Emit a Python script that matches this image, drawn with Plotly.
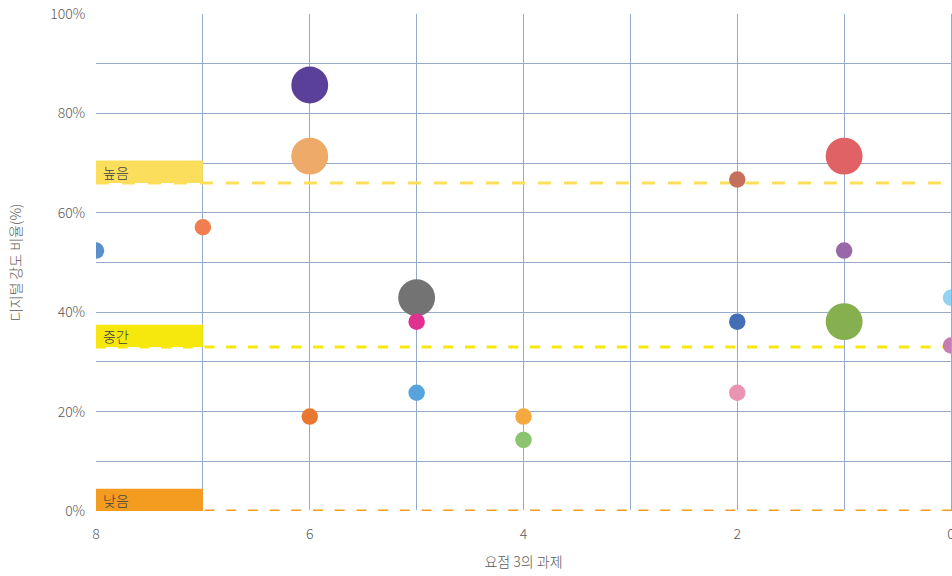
import math
import plotly.graph_objects as go

# ---- data ----
task_count = [8, 7, 6, 6, 6, 5, 5, 5, 4, 4, 2, 2, 2, 1, 1, 1, 0, 0]
digital_ratio = [52.4, 57.1, 85.7, 71.4, 19.0, 42.9, 38.1, 23.8, 19.0, 14.3,
                 66.7, 38.1, 23.8, 71.4, 52.4, 38.1, 42.9, 33.3]
bubble_weight = [1, 1, 5, 5, 1, 5, 1, 1, 1, 1, 1, 1, 1, 5, 1, 5, 1, 1]
bubble_colors = ["#5A8FCB", "#F07E50", "#5B409A", "#EEAA68", "#E87731", "#737373",
                 "#DE3190", "#57A3DC", "#F4AA40", "#8CC36F", "#C5705A", "#436DB5",
                 "#E894B2", "#E06265", "#9968A8", "#86B04F", "#92D2F2", "#C97CB2"]

level_names = ["높음", "중간", "낮음"]
level_values = [66.0, 33.0, 0.0]
level_colors = ["#FBDF5C", "#F6E70C", "#F39C1F"]

x_tick_values = [8, 6, 4, 2, 0]
y_tick_values = [0, 20, 40, 60, 80, 100]
y_tick_labels = ["0%", "20%", "40%", "60%", "80%", "100%"]

x_title = "요점 3의 과제"
y_title = "디지털 강도 비율(%)"

# styles
level_dash = ["13px,13px", "10px,11.7px", "10px,11.7px"]
level_width = [3.2, 2.8, 2.8]

FONT = "Noto Sans CJK KR Light, Noto Sans CJK KR, sans-serif"
GRID = "#93AACB"
TEXT = "#595959"

# bubble area proportional to weight
diameters = [16.5 * math.sqrt(w) for w in bubble_weight]

fig = go.Figure()
fig.add_trace(go.Scatter(
    x=task_count, y=digital_ratio, mode="markers",
    marker=dict(size=diameters, color=bubble_colors, opacity=1, line=dict(width=0)),
    hoverinfo="x+y", showlegend=False, cliponaxis=True,
))

shapes = []
annotations = []
for name, val, col, dsh, lw in zip(level_names, level_values, level_colors, level_dash, level_width):
    shapes.append(dict(type="rect", xref="x", yref="y", x0=8, x1=7, y0=val, y1=val + 4.5,
                       fillcolor=col, line=dict(width=0), layer="between"))
    shapes.append(dict(type="line", xref="x", yref="y", x0=8, x1=0, y0=val, y1=val,
                       line=dict(color=col, width=lw, dash=dsh), layer="between"))
    annotations.append(dict(x=8, y=val + 2.25, xref="x", yref="y", text=name, showarrow=False,
                            xanchor="left", yanchor="middle", xshift=5,
                            font=dict(family=FONT, size=14, color="#404040")))

fig.update_layout(
    width=952, height=576,
    margin=dict(l=96, r=1, t=14, b=65, autoexpand=False),
    paper_bgcolor="white", plot_bgcolor="white",
    font=dict(family=FONT, size=14, color=TEXT),
    shapes=shapes, annotations=annotations,
    xaxis=dict(range=[8, 0], tickvals=x_tick_values, automargin=False,
               showgrid=True, gridcolor=GRID, gridwidth=1.3,
               minor=dict(dtick=1, showgrid=True, gridcolor=GRID, gridwidth=1.3),
               zeroline=True, zerolinecolor=GRID, zerolinewidth=1.3,
               ticks="outside", ticklen=10, tickcolor="rgba(0,0,0,0)",
               ticklabeloverflow="allow",
               title=dict(text=x_title, standoff=15, font=dict(size=14, color=TEXT)),
               tickfont=dict(size=14, color=TEXT), fixedrange=True),
    yaxis=dict(range=[0, 100], tickvals=y_tick_values, ticktext=y_tick_labels, automargin=False,
               showgrid=True, gridcolor=GRID, gridwidth=1.3,
               minor=dict(dtick=10, showgrid=True, gridcolor=GRID, gridwidth=1.3),
               zeroline=True, zerolinecolor="white", zerolinewidth=3,
               ticks="outside", ticklen=7, tickcolor="rgba(0,0,0,0)",
               ticklabeloverflow="allow",
               title=dict(text=y_title, standoff=25, font=dict(size=14, color=TEXT)),
               tickfont=dict(size=14, color=TEXT), fixedrange=True),
)

fig.write_html(
    "out.html",
    config={"displayModeBar": False},
    post_script="document.body.style.margin='0';document.body.style.overflow='hidden';",
)
